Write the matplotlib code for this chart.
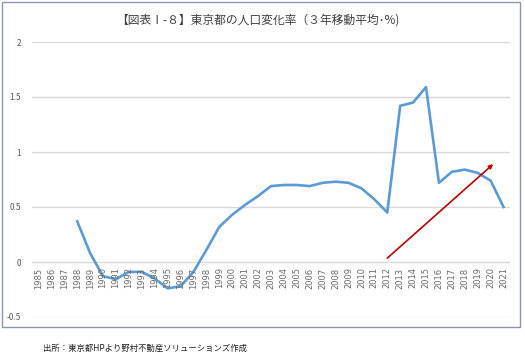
import matplotlib
matplotlib.use("Agg")
import matplotlib.pyplot as plt
from matplotlib.patches import Rectangle

plt.rcParams['font.family'] = ['Noto Sans CJK JP', 'DejaVu Sans']

years = list(range(1985, 2022))
values = [None, None, None, 0.37, 0.08, -0.13, -0.155, -0.09, -0.09, -0.15,
          -0.24, -0.22, -0.09, 0.11, 0.32, 0.43, 0.52, 0.60, 0.69, 0.70,
          0.70, 0.69, 0.72, 0.73, 0.72, 0.67, 0.57, 0.45, 1.42, 1.45,
          1.59, 0.72, 0.82, 0.84, 0.81, 0.74, 0.50]
yticks = [-0.5, 0, 0.5, 1, 1.5, 2]
ytick_labels = ['-0.5', '0', '0.5', '1', '1.5', '2']
title = '【図表Ⅰ-８】東京都の人口変化率（３年移動平均･%)'
source = '出所：東京都HPより野村不動産ソリューションズ作成'
arrow_start = (27, 0.035)
arrow_end = (35.2, 0.89)

W, H = 525, 355
fig = plt.figure(figsize=(W / 100, H / 100), dpi=100)
fig.patch.set_facecolor('white')
fig.add_artist(Rectangle((2 / W, 1 - 327 / H), 518 / W, 325 / H, transform=fig.transFigure,
                         fill=False, edgecolor='#8a96b0', linewidth=1.0))

ax = fig.add_axes([32 / W, 1 - 317 / H, 478 / W, 275 / H])
x = list(range(len(years)))
xs = [i for i, v in zip(x, values) if v is not None]
vs = [v for v in values if v is not None]
ax.plot(xs, vs, color='#5B9BD5', linewidth=1.9, solid_joinstyle='round', zorder=3)

ax.set_ylim(-0.5, 2)
ax.set_xlim(-0.5, len(years) - 0.5)
ax.set_yticks(yticks)
ax.set_yticklabels(ytick_labels)
ax.grid(axis='y', color='#d9d9d9', linewidth=1.0)
ax.set_axisbelow(True)
for s in ax.spines.values():
    s.set_visible(False)
ax.tick_params(axis='y', length=0, labelsize=6, labelcolor='#595959', pad=8)
ax.set_xticks([])
for i, yr in zip(x, years):
    ax.text(i, -0.05, str(yr), transform=ax.transData, rotation=90, ha='center', va='top',
            fontsize=6, color='#6a6a6a', family='DejaVu Sans')

ax.annotate('', xy=arrow_end, xytext=arrow_start,
            arrowprops=dict(arrowstyle='-|>', color='#C00000', lw=1.2, mutation_scale=6,
                            shrinkA=0, shrinkB=0), zorder=4)

fig.text(258 / W, 1 - 20 / H, title, ha='center', va='center', fontsize=8.5, color='#404040')
fig.text(145 / W, 1 - 348 / H, source, ha='center', va='center', fontsize=6, color='#222222')

fig.savefig('out.png', dpi=100, facecolor='white')
